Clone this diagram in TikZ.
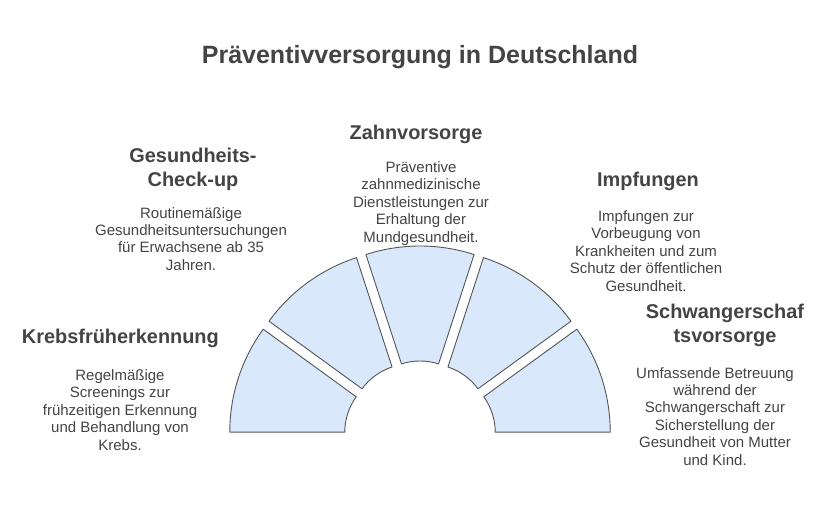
\documentclass[tikz,border=0pt]{standalone}
\usepackage{fontspec}
\setmainfont{Liberation Sans}
\definecolor{segfill}{HTML}{DAE8FC}
\definecolor{segline}{HTML}{555555}
\definecolor{txt}{HTML}{444444}
\begin{document}
\begin{tikzpicture}[x=1pt,y=-1pt,
  seg/.style={fill=segfill,draw=segline,line width=0.9pt,line join=round},
  ttl/.style={font=\bfseries\fontsize{25}{29}\selectfont,text=txt,inner sep=0pt,anchor=base},
  head/.style={font=\bfseries\fontsize{19.9}{24}\selectfont,text=txt,inner sep=0pt,anchor=base,align=center},
  body/.style={font=\fontsize{15}{17.4}\selectfont,text=txt,inner sep=0pt,anchor=base,align=center}]
\useasboundingbox (0,0) rectangle (829,517);
\fill[white] (0,0) rectangle (829,517);
\node[ttl] (title) at (420,63) {Präventivversorgung in Deutschland};

\foreach \a in {144,108,72,36,0} {
  \pgfmathsetmacro\m{\a+18}
  \pgfmathsetmacro\b{\a+36}
  \begin{scope}[shift={(420,437)},x=1pt,y=1pt]
    \begin{scope}[shift={(\m:16)}]
      \draw[seg] (\a:60) -- (\a:175) arc[start angle=\a,end angle=\b,radius=175]
        -- (\b:60) arc[start angle=\b,end angle=\a,radius=60] -- cycle;
    \end{scope}
  \end{scope}
}

\node[head] (h1) at (120.4,343.3) {Krebsfrüherkennung};
\node[body] (b1) at (120,450) {Regelmäßige\\Screenings zur\\frühzeitigen Erkennung\\und Behandlung von\\Krebs.};

\node[head] (h2) at (193,186) {Gesundheits-\\Check-up};
\node[body] (b2) at (191,270.2) {Routinemäßige\\Gesundheitsuntersuchungen\\für Erwachsene ab 35\\Jahren.};

\node[head] (h3) at (416,139.3) {Zahnvorsorge};
\node[body] (b3) at (421,242) {Präventive\\zahnmedizinische\\Dienstleistungen zur\\Erhaltung der\\Mundgesundheit.};

\node[head] (h4) at (648,186.7) {Impfungen};
\node[body] (b4) at (646,291) {Impfungen zur\\Vorbeugung von\\Krankheiten und zum\\Schutz der öffentlichen\\Gesundheit.};

\node[head] (h5) at (725,342.7) {Schwangerschaf\\tsvorsorge};
\node[body] (b5) at (715,465) {Umfassende Betreuung\\während der\\Schwangerschaft zur\\Sicherstellung der\\Gesundheit von Mutter\\und Kind.};
\end{tikzpicture}
\end{document}
